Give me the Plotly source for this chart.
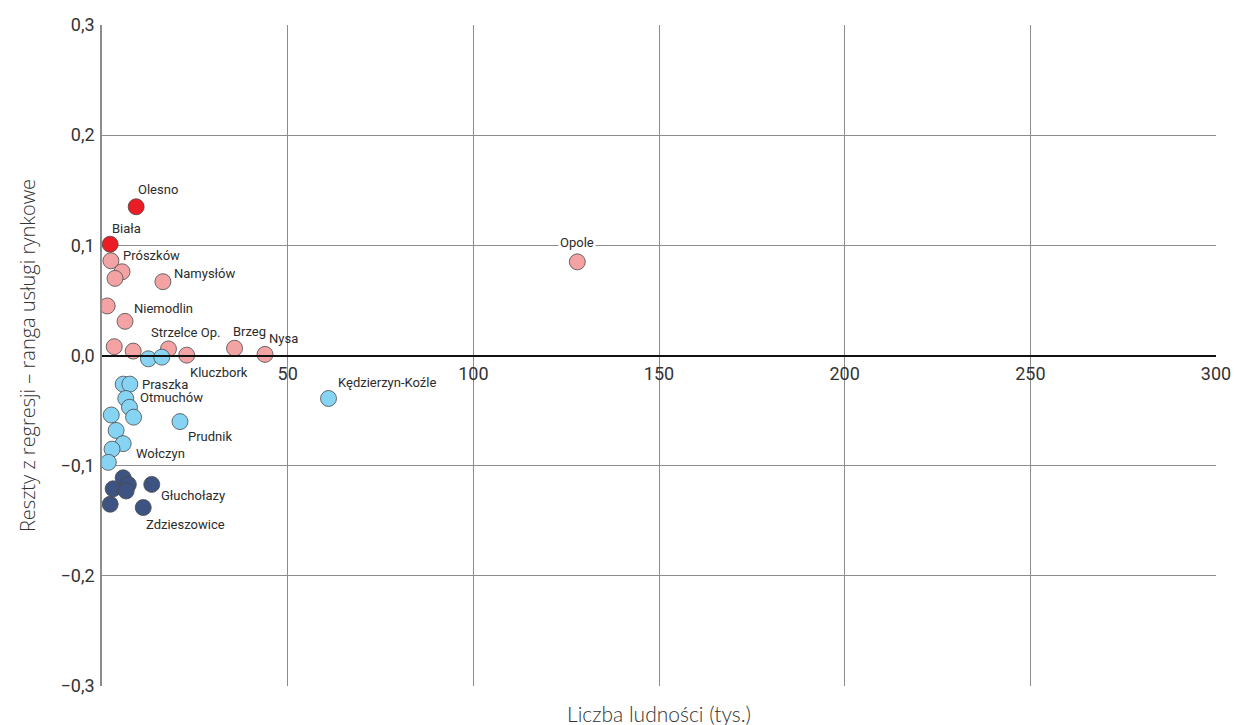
import plotly.graph_objects as go

# Population (thousands) and regression residuals, grouped by residual class
red_x = [9.2, 2.2]
red_y = [0.135, 0.101]
red_names = ["Olesno", "Biała"]

pink_x = [2.4, 5.4, 3.5, 16.4, 1.4, 6.2, 3.3, 8.4, 17.9, 22.8, 35.7, 43.9, 128.0]
pink_y = [0.086, 0.076, 0.070, 0.067, 0.045, 0.031, 0.008, 0.004, 0.006, 0.0003, 0.0066, 0.001, 0.085]
pink_names = ["Prószków", "", "", "Namysłów", "", "Niemodlin", "", "", "Strzelce Op.",
              "Kluczbork", "Brzeg", "Nysa", "Opole"]

light_x = [12.5, 16.1, 5.7, 7.5, 6.4, 7.4, 8.5, 2.5, 21.0, 3.8, 5.7, 2.7, 1.7, 61.0]
light_y = [-0.003, -0.0015, -0.026, -0.026, -0.039, -0.047, -0.056, -0.054, -0.060,
           -0.068, -0.080, -0.085, -0.097, -0.039]
light_names = ["", "", "", "Praszka", "Otmuchów", "", "", "", "Prudnik", "", "Wołczyn", "", "",
               "Kędzierzyn-Koźle"]

dark_x = [5.7, 7.1, 3.0, 6.5, 13.4, 2.2, 11.1]
dark_y = [-0.111, -0.117, -0.121, -0.123, -0.117, -0.135, -0.138]
dark_names = ["", "", "", "", "Głuchołazy", "", "Zdzieszowice"]

x_ticks = [50, 100, 150, 200, 250, 300]
y_ticks = [0.3, 0.2, 0.1, 0.0, -0.1, -0.2, -0.3]
y_tick_text = ["0,3", "0,2", "0,1", "0,0", "\u22120,1", "\u22120,2", "\u22120,3"]

# label placement relative to each named point: (xanchor, xshift, yshift, white background)
label_pos = {
    "Olesno": ("left", 0, 17, False),
    "Biała": ("left", 0, 16, False),
    "Prószków": ("left", 10, 5, False),
    "Namysłów": ("left", 9, 8, False),
    "Niemodlin": ("left", 7, 13, False),
    "Strzelce Op.": ("center", 17, 16, False),
    "Kluczbork": ("left", 1, -17, False),
    "Brzeg": ("left", -4, 17, False),
    "Nysa": ("left", 2, 16, False),
    "Opole": ("center", 0, 19, True),
    "Praszka": ("left", 10, 0, False),
    "Otmuchów": ("left", 12, 1, False),
    "Prudnik": ("left", 6, -15, False),
    "Wołczyn": ("left", 11, -10, False),
    "Kędzierzyn-Koźle": ("left", 7, 16, False),
    "Głuchołazy": ("left", 7, -11, False),
    "Zdzieszowice": ("left", 1, -17, False),
}

groups = [
    (pink_x, pink_y, pink_names, "#F4A3A4"),
    (light_x, light_y, light_names, "#86D3F3"),
    (dark_x, dark_y, dark_names, "#3D5381"),
    (red_x, red_y, red_names, "#EC1C24"),
]

fig = go.Figure()
annotations = []
for xs, ys, names, color in groups:
    fig.add_trace(go.Scatter(
        x=xs, y=ys, mode="markers", text=names, hoverinfo="text+x+y",
        marker=dict(size=16, color=color, line=dict(color="#4a4a4a", width=0.8)),
        showlegend=False,
    ))
    for x, y, name in zip(xs, ys, names):
        if not name:
            continue
        anchor, dx, dy, bg = label_pos[name]
        annotations.append(dict(
            x=x, y=y, xref="x", yref="y", text=name, showarrow=False,
            xanchor=anchor, yanchor="middle", xshift=dx, yshift=dy,
            font=dict(family="Roboto", size=13, color="#2b2b2b"),
            bgcolor="white" if bg else None, borderpad=1,
        ))

fig.update_layout(
    width=1234, height=725,
    margin=dict(l=102, r=18, t=25, b=39),
    paper_bgcolor="white", plot_bgcolor="white",
    annotations=annotations,
    xaxis=dict(
        range=[0, 300], tickvals=x_ticks, ticktext=[str(v) for v in x_ticks],
        anchor="free", position=0.5, side="bottom", automargin=False,
        showline=True, linecolor="#111111", linewidth=1.5,
        showgrid=True, gridcolor="#8c8c8c", gridwidth=1,
        zeroline=False, ticks="", ticklabelstandoff=2,
        tickfont=dict(family="Roboto", size=18, color="#333333"),
        title=None,
    ),
    yaxis=dict(
        range=[-0.3, 0.3], tickvals=y_ticks, ticktext=y_tick_text, automargin=False,
        showline=True, linecolor="#8c8c8c", linewidth=1.5,
        showgrid=True, gridcolor="#8c8c8c", gridwidth=1,
        zeroline=False, ticks="", ticklabelstandoff=2,
        tickfont=dict(family="Roboto", size=18, color="#333333"),
        title=dict(text="Reszty z regresji \u2013 ranga usługi rynkowe",
                   font=dict(family="Open Sans", size=20, weight=300, color="#333333"),
                   standoff=20),
    ),
)

# x-axis title sits below the plot frame, since the axis itself runs along y = 0
fig.add_annotation(
    x=0.5, y=0, xref="paper", yref="paper", yanchor="middle", yshift=-27,
    text="Liczba ludności (tys.)", showarrow=False,
    font=dict(family="Lato", size=21, weight=300, color="#333333"),
)

fig.write_html("out.html")
